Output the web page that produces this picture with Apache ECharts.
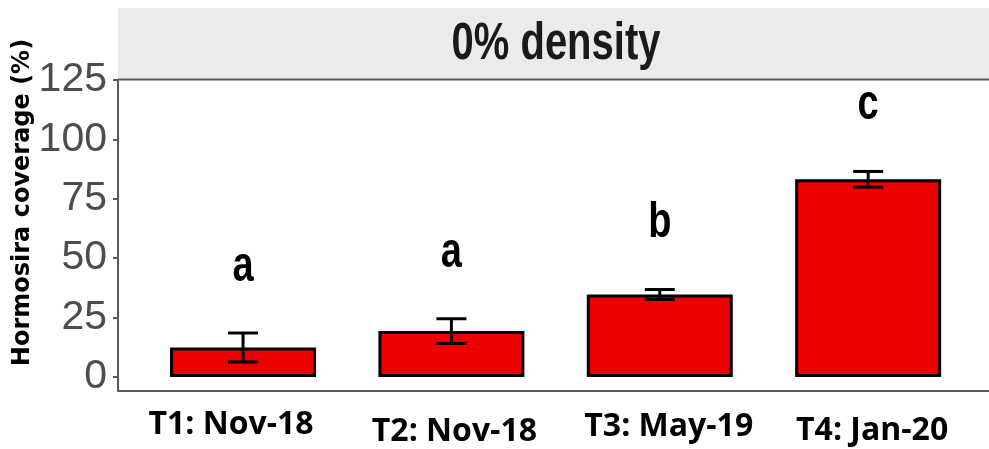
<!DOCTYPE html>
<html>
<head>
<meta charset="utf-8">
<script src="https://cdn.jsdelivr.net/npm/echarts@6/dist/echarts.min.js"></script>
<style>
  html, body { margin: 0; padding: 0; background: #ffffff; }
  #chart { width: 989px; height: 449px; }
</style>
</head>
<body>
<div id="chart"></div>
<script>
// Sampling times and mean Hormosira coverage (%) with standard errors
const categories = ['T1: Nov-18', 'T2: Nov-18', 'T3: May-19', 'T4: Jan-20'];
const coverage = [12.4, 19.3, 34.7, 83.2];
const stdError = [6.1, 5.2, 2.1, 3.3];
const groupLetters = ['a', 'a', 'b', 'c'];
const yTicks = [0, 25, 50, 75, 100, 125];
const panelTitle = '0% density';
const yTitle = 'Hormosira coverage (%)';

// Fonts and styling
const SANS = '"Liberation Sans", Arial, sans-serif';
const LABEL_FONT = '"Open Sans", "Noto Sans", sans-serif';
const AXIS_GREY = '#5a5a5a';
const TALL = 1.3;             // vertical stretch of the panel lettering
const LETTER_SIZE = 38;
const LETTER_GAP = 20.5;      // letters sit this many % above the error bar
const LETTER_MID = 0.3465 * LETTER_SIZE * TALL;   // baseline to text middle, px

// small per-label nudges [dx, dy] for the x labels
const labelNudge = [[-12, 0], [3, 7], [9, 2], [4, 6]];

const positions = categories.map((_, i) => i + 1);

const rich = {};
labelNudge.forEach(([dx, dy], i) => {
  rich['t' + (i + 1)] = {
    fontFamily: LABEL_FONT,
    fontSize: 32,
    fontWeight: 700,
    color: '#000000',
    padding: [dy, dx < 0 ? -2 * dx : 0, 0, dx > 0 ? 2 * dx : 0]
  };
});

const chart = echarts.init(document.getElementById('chart'), null, { renderer: 'canvas' });

chart.setOption({
  animation: false,
  backgroundColor: '#ffffff',
  grid: { left: 118, right: 0, top: 80, bottom: 58.5, containLabel: false, outerBoundsMode: 'none' },
  xAxis: {
    type: 'value',
    min: 0.4,
    max: 4.58,
    axisLine: { show: true, onZero: false, lineStyle: { color: AXIS_GREY, width: 2 } },
    axisTick: { show: false },
    splitLine: { show: false },
    axisLabel: {
      customValues: positions,
      margin: 18,
      formatter: v => `{t${v}|${categories[v - 1]}}`,
      rich: rich
    }
  },
  yAxis: {
    type: 'value',
    min: -5.7,
    max: 125,
    axisLine: { show: true, onZero: false, lineStyle: { color: AXIS_GREY, width: 2 } },
    axisTick: { show: true, customValues: yTicks, length: 5, lineStyle: { color: AXIS_GREY, width: 2 } },
    splitLine: { show: false },
    axisLabel: {
      customValues: yTicks,
      margin: 11,
      fontFamily: SANS,
      fontSize: 41,
      color: '#4d4d4d'
    }
  },
  graphic: [
    { type: 'rect', shape: { x: 118, y: 8, width: 871, height: 71.5 }, style: { fill: '#ebebeb' }, z: 0 },
    { type: 'line', shape: { x1: 118, y1: 79.5, x2: 989, y2: 79.5 }, style: { stroke: AXIS_GREY, lineWidth: 2 }, z: 1 },
    {
      type: 'text', x: 556, y: 45, scaleY: 1.28,
      style: { text: panelTitle, font: `bold 40px ${SANS}`, fill: '#1a1a1a', align: 'center', verticalAlign: 'middle' }
    },
    {
      type: 'text', x: 23, y: 202.5, rotation: Math.PI / 2,
      style: { text: yTitle, font: 'bold 24px "DejaVu Sans", sans-serif', fill: '#000000', align: 'center', verticalAlign: 'middle' }
    }
  ],
  series: [
    {
      type: 'bar',
      data: positions.map((x, i) => [x, coverage[i]]),
      barWidth: 146,
      itemStyle: { color: '#ee0000', borderColor: '#000000', borderWidth: 3 },
      z: 2
    },
    {
      // error bars: mean ± standard error
      type: 'custom',
      data: positions.map((x, i) => [x, coverage[i] - stdError[i], coverage[i] + stdError[i]]),
      z: 3,
      renderItem: (params, api) => {
        const x = api.value(0);
        const lo = api.coord([x, api.value(1)]);
        const hi = api.coord([x, api.value(2)]);
        const half = 15;
        const st = { stroke: '#000000', lineWidth: 3 };
        return {
          type: 'group',
          children: [
            { type: 'line', shape: { x1: hi[0], y1: hi[1], x2: lo[0], y2: lo[1] }, style: st },
            { type: 'line', shape: { x1: hi[0] - half, y1: hi[1], x2: hi[0] + half, y2: hi[1] }, style: st },
            { type: 'line', shape: { x1: lo[0] - half, y1: lo[1], x2: lo[0] + half, y2: lo[1] }, style: st }
          ]
        };
      }
    },
    {
      // significance letters above each error bar
      type: 'custom',
      data: positions.map((x, i) => [x, coverage[i] + stdError[i]]),
      z: 4,
      renderItem: (params, api) => {
        const p = api.coord([api.value(0), api.value(1) + LETTER_GAP]);
        return {
          type: 'text',
          x: p[0],
          y: p[1] - LETTER_MID,
          scaleY: TALL,
          style: {
            text: groupLetters[params.dataIndex],
            font: `bold ${LETTER_SIZE}px ${SANS}`,
            fill: '#000000',
            align: 'center',
            verticalAlign: 'middle'
          }
        };
      }
    }
  ]
});
</script>
</body>
</html>
